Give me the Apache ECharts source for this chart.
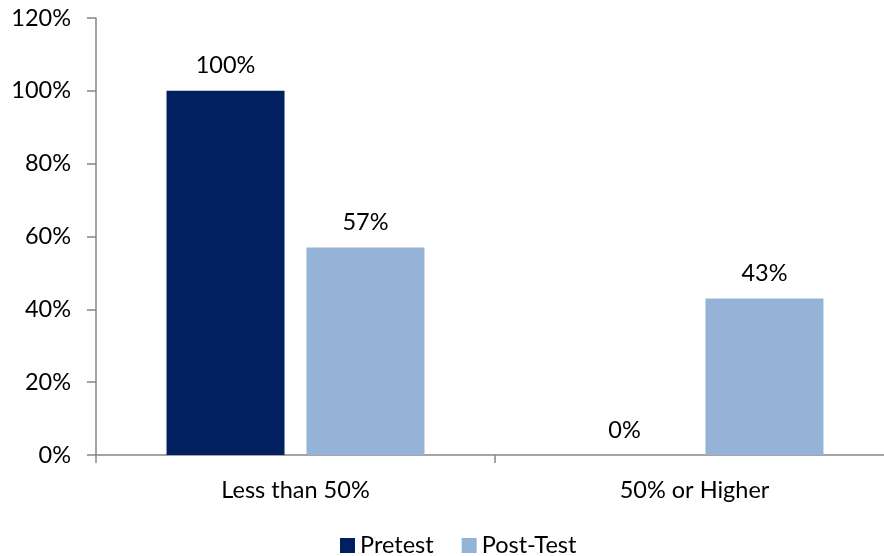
<!DOCTYPE html>
<html>
<head>
<meta charset="utf-8">
<script src="https://cdn.jsdelivr.net/npm/echarts@6/dist/echarts.min.js"></script>
<style>html,body{margin:0;padding:0;background:#fff;overflow:hidden;width:884px;height:556px}#c{width:894px;height:556px}</style>
</head>
<body>
<div id="c"></div>
<script>
var categories = ['Less than 50%', '50% or Higher'];
var pretest = [100, 0];
var postTest = [57, 43];
var yTicks = [0, 20, 40, 60, 80, 100, 120];

var chart = echarts.init(document.getElementById('c'), null, {renderer: 'canvas'});
var font = 'Lato, "Open Sans", sans-serif';
var axisColor = '#868686';
var fs = 23.5;
chart.setOption({
  animation: false,
  textStyle: {fontFamily: font},
  grid: {left: 96, top: 18, right: 0, bottom: 101, containLabel: false},
  legend: {
    top: 529, left: 340, padding: 0, icon: 'rect', itemWidth: 15, itemHeight: 15, itemGap: 28, itemTextGap: 6,
    textStyle: {fontFamily: font, fontSize: fs, color: '#000', lineHeight: 33},
    data: ['Pretest', 'Post-Test']
  },
  xAxis: {
    type: 'category', data: categories,
    axisLine: {lineStyle: {color: axisColor, width: 1.5}},
    axisTick: {show: true, length: 8, lineStyle: {color: axisColor, width: 1.5}},
    axisLabel: {fontFamily: font, fontSize: fs, color: '#000', margin: 23}
  },
  yAxis: {
    type: 'value', min: yTicks[0], max: yTicks[yTicks.length - 1], interval: 20,
    splitLine: {show: false},
    axisLine: {show: true, lineStyle: {color: axisColor, width: 1.5}},
    axisTick: {show: true, length: 9, lineStyle: {color: axisColor, width: 1.5}},
    axisLabel: {fontFamily: font, fontSize: fs, color: '#000', margin: 25, formatter: '{value}%'}
  },
  series: [
    {name: 'Pretest', type: 'bar', data: pretest, barWidth: 118, barGap: '18.6%',
     itemStyle: {color: '#002060'},
     label: {show: true, position: 'top', distance: 13, formatter: '{c}%', fontFamily: font, fontSize: fs, color: '#000'}},
    {name: 'Post-Test', type: 'bar', data: postTest, barWidth: 118,
     itemStyle: {color: '#95B3D7'},
     label: {show: true, position: 'top', distance: 13, formatter: '{c}%', fontFamily: font, fontSize: fs, color: '#000'}}
  ]
});
</script>
</body>
</html>
